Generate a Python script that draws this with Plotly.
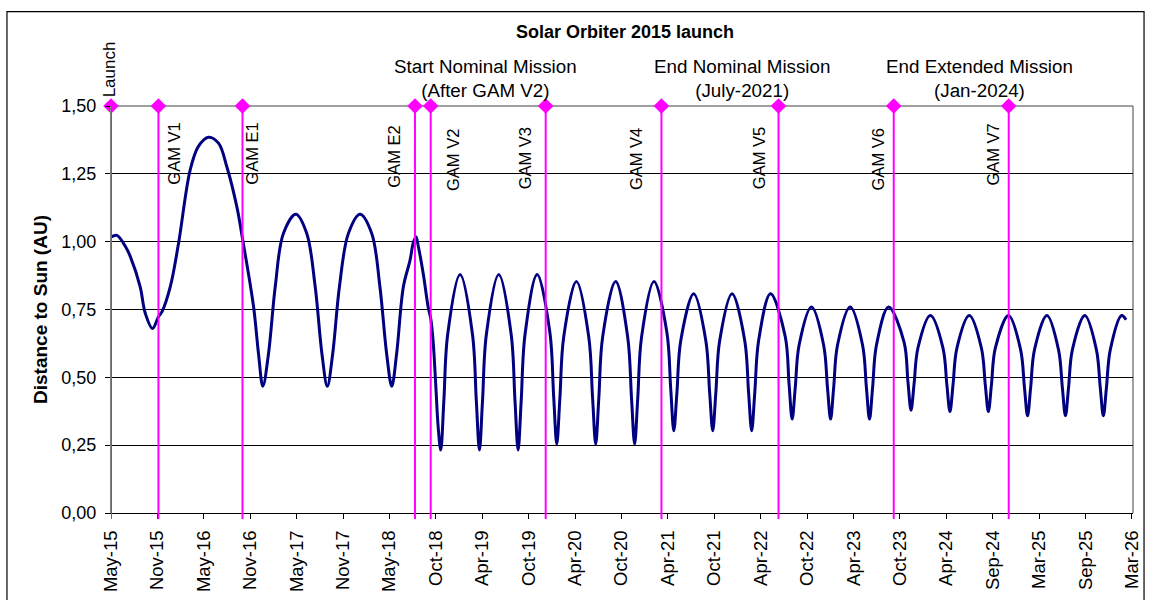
import pandas as pd
import plotly.graph_objects as go

# ---------------- data ----------------
launch_date = "2015-05-20"

# Distance to Sun, days after launch -> AU
curve_days = [
    0, 23, 56, 75, 113, 133, 161, 184, 198, 230, 262, 307, 339, 378, 417, 449,
    488, 511, 553, 572, 589, 611, 637, 669, 717, 759, 792, 818, 839, 860, 886,
    921, 966, 1011, 1043, 1069, 1089, 1108, 1134, 1160, 1172, 1183, 1192, 1211,
    1230, 1241, 1250, 1260, 1269, 1279,
    1291, 1306, 1354, 1402, 1417, 1429,
    1441, 1456, 1504, 1552, 1567, 1579,
    1591, 1606, 1653, 1702, 1717, 1729,
    1741, 1756, 1805, 1853, 1868, 1880,
    1892, 1907, 1957, 2004, 2019, 2031,
    2043, 2058, 2106, 2156, 2171, 2183,
    2195, 2210, 2260, 2307, 2322, 2334,
    2346, 2361, 2409, 2458, 2473, 2485,
    2497, 2512, 2558, 2615, 2630, 2642,
    2654, 2669, 2717, 2764, 2779, 2791,
    2803, 2818, 2867, 2915, 2930, 2942,
    2954, 2969, 3016, 3076, 3091, 3103,
    3115, 3130, 3178, 3227, 3242, 3254,
    3266, 3281, 3329, 3376, 3391, 3403,
    3415, 3430, 3481, 3528, 3543, 3555,
    3567, 3582, 3630, 3675, 3690, 3702,
    3714, 3729, 3777, 3822, 3837, 3849,
    3861, 3876, 3920, 3937,
]
curve_au = [
    1.017, 1.023, 0.982, 0.945, 0.834, 0.736, 0.680, 0.723, 0.742, 0.834, 0.994,
    1.264, 1.351, 1.385, 1.363, 1.277, 1.129, 1.006, 0.760, 0.588, 0.467, 0.588,
    0.834, 1.031, 1.101, 1.031, 0.834, 0.588, 0.467, 0.588, 0.834, 1.031, 1.101,
    1.031, 0.834, 0.588, 0.467, 0.588, 0.834, 0.932, 0.994, 1.018, 0.982, 0.883,
    0.760, 0.711, 0.625, 0.465, 0.317, 0.232,
    0.413, 0.659, 0.879, 0.659, 0.413, 0.232,
    0.413, 0.659, 0.879, 0.659, 0.413, 0.232,
    0.413, 0.659, 0.879, 0.667, 0.429, 0.254,
    0.422, 0.649, 0.853, 0.649, 0.422, 0.254,
    0.422, 0.649, 0.853, 0.649, 0.422, 0.254,
    0.422, 0.649, 0.853, 0.666, 0.457, 0.303,
    0.444, 0.636, 0.808, 0.636, 0.444, 0.303,
    0.444, 0.636, 0.808, 0.636, 0.444, 0.303,
    0.444, 0.636, 0.808, 0.651, 0.475, 0.346,
    0.462, 0.619, 0.759, 0.619, 0.462, 0.346,
    0.462, 0.619, 0.759, 0.619, 0.462, 0.346,
    0.462, 0.619, 0.759, 0.630, 0.485, 0.379,
    0.477, 0.609, 0.728, 0.608, 0.473, 0.374,
    0.473, 0.608, 0.728, 0.608, 0.473, 0.374,
    0.473, 0.608, 0.728, 0.602, 0.462, 0.358,
    0.462, 0.602, 0.728, 0.602, 0.462, 0.358,
    0.462, 0.602, 0.728, 0.602, 0.462, 0.358,
    0.462, 0.602, 0.728, 0.712,
]

# Mission events (days after launch)
event_names = ["Launch", "GAM V1", "GAM E1", "GAM E2", "GAM V2", "GAM V3",
               "GAM V4", "GAM V5", "GAM V6", "GAM V7"]
event_days = [0, 184, 510, 1179, 1240, 1686, 2135, 2589, 3036, 3482]
event_marker_au = [1.5] * len(event_names)
event_label_au = [1.635, 1.326, 1.326, 1.313, 1.300, 1.306, 1.306, 1.306, 1.302, 1.320]

mission_texts = ["Start Nominal Mission<br>(After GAM V2)",
                 "End Nominal Mission<br>(July-2021)",
                 "End Extended Mission<br>(Jan-2024)"]
mission_days = [1452, 2446, 3368]
mission_au = [1.600, 1.600, 1.600]

tick_labels = ["May-15", "Nov-15", "May-16", "Nov-16", "May-17", "Nov-17",
               "May-18", "Oct-18", "Apr-19", "Oct-19", "Apr-20", "Oct-20",
               "Apr-21", "Oct-21", "Apr-22", "Oct-22", "Apr-23", "Oct-23",
               "Apr-24", "Sep-24", "Mar-25", "Sep-25", "Mar-26"]
tick_step_days = 180
y_ticks = [0, 0.25, 0.5, 0.75, 1.0, 1.25, 1.5]
y_max = 1.5

# ---------------- helpers ----------------
t0 = pd.Timestamp(launch_date)


def to_date(days):
    return [(t0 + pd.Timedelta(days=float(d))).strftime("%Y-%m-%d %H:%M") for d in days]


def au_to_paper(v):
    return v / y_max


curve_x = to_date(curve_days)
event_x = to_date(event_days)
mission_x = to_date(mission_days)
tick_x = to_date([k * tick_step_days for k in range(len(tick_labels))])
x_range = to_date([0, (len(tick_labels) - 1) * tick_step_days + 4])

FONT = "Liberation Sans, Arial, sans-serif"
MAGENTA = "#FF00FF"

fig = go.Figure()

fig.add_trace(go.Scatter(
    x=curve_x, y=curve_au, mode="lines",
    line=dict(color="#000080", width=3, shape="spline", smoothing=1.0),
    hoverinfo="skip", showlegend=False,
))

fig.add_trace(go.Scatter(
    x=event_x, y=event_marker_au, mode="markers",
    marker=dict(symbol="diamond", size=12, color=MAGENTA),
    cliponaxis=False, hoverinfo="skip", showlegend=False,
))

shapes = []
for ex in event_x:
    shapes.append(dict(type="line", xref="x", yref="paper", x0=ex, x1=ex,
                       y0=-0.015, y1=1, line=dict(color=MAGENTA, width=2),
                       layer="above"))
# plot-area border (top and right, grey)
shapes.append(dict(type="line", xref="paper", yref="paper", x0=0, x1=1, y0=1, y1=1,
                   line=dict(color="#808080", width=1.5), layer="below"))
shapes.append(dict(type="line", xref="paper", yref="paper", x0=1, x1=1, y0=0, y1=1,
                   line=dict(color="#808080", width=1.5), layer="below"))
# outer chart frame
shapes.append(dict(type="rect", xref="paper", yref="paper", x0=-0.1018, x1=1.0108,
                   y0=-0.24, y1=1.2317, line=dict(color="#000000", width=1.2),
                   fillcolor="rgba(0,0,0,0)", layer="below"))

label_shift = [-2, 16, 10, -21, 23, -21, -26, -20, -16, -16]
annotations = []
for name, ex, ly, sh in zip(event_names, event_x, event_label_au, label_shift):
    annotations.append(dict(
        x=ex, y=au_to_paper(ly), xref="x", yref="paper", text=name, showarrow=False,
        textangle=-90, xanchor="center", yanchor="middle", xshift=sh,
        font=dict(family=FONT, size=17 if name == "Launch" else 16.5, color="#000000"),
    ))
for txt, mx, my in zip(mission_texts, mission_x, mission_au):
    annotations.append(dict(
        x=mx, y=au_to_paper(my), xref="x", yref="paper", text=txt, showarrow=False,
        xanchor="center", yanchor="middle", align="center",
        font=dict(family=FONT, size=18.8, color="#000000"),
    ))
annotations.append(dict(
    x=-0.0695, y=0.5012, xref="paper", yref="paper",
    text="<b>Distance to Sun (AU)</b>", showarrow=False, textangle=-90,
    xanchor="center", yanchor="middle",
    font=dict(family=FONT, size=19, color="#000000"),
))
annotations.append(dict(
    x=0.5034, y=1.1818, xref="paper", yref="paper",
    text="<b>Solar Orbiter 2015 launch</b>", showarrow=False,
    xanchor="center", yanchor="middle",
    font=dict(family=FONT, size=18, color="#000000"),
))

fig.update_layout(
    width=1149, height=600,
    margin=dict(l=111, r=16, t=106, b=87),
    paper_bgcolor="#FFFFFF", plot_bgcolor="#FFFFFF",
    separators=",.",
    font=dict(family=FONT, size=18, color="#000000"),
    shapes=shapes, annotations=annotations,
    showlegend=False,
    xaxis=dict(
        type="date", range=x_range, tickvals=tick_x, ticktext=tick_labels,
        tickangle=-90, ticks="outside", ticklen=5, tickcolor="#000000",
        showgrid=False, zeroline=False, showline=True, linecolor="#000000",
        linewidth=1, tickfont=dict(family=FONT, size=18.5, color="#000000"),
        ticklabelstandoff=4, automargin=False,
    ),
    yaxis=dict(
        range=[0, y_max], tickvals=y_ticks, tickformat=".2f",
        ticks="outside", ticklen=5, tickcolor="#000000",
        showgrid=True, gridcolor="#000000", gridwidth=1,
        zeroline=False, showline=True, linecolor="#808080", linewidth=1,
        tickfont=dict(family=FONT, size=18, color="#000000"),
        ticklabelstandoff=5, automargin=False,
    ),
)

fig.write_html(
    "out.html",
    config={"displayModeBar": False},
    post_script="document.body.style.margin='0px';document.body.style.padding='0px';"
                "document.body.style.overflow='hidden';",
)
